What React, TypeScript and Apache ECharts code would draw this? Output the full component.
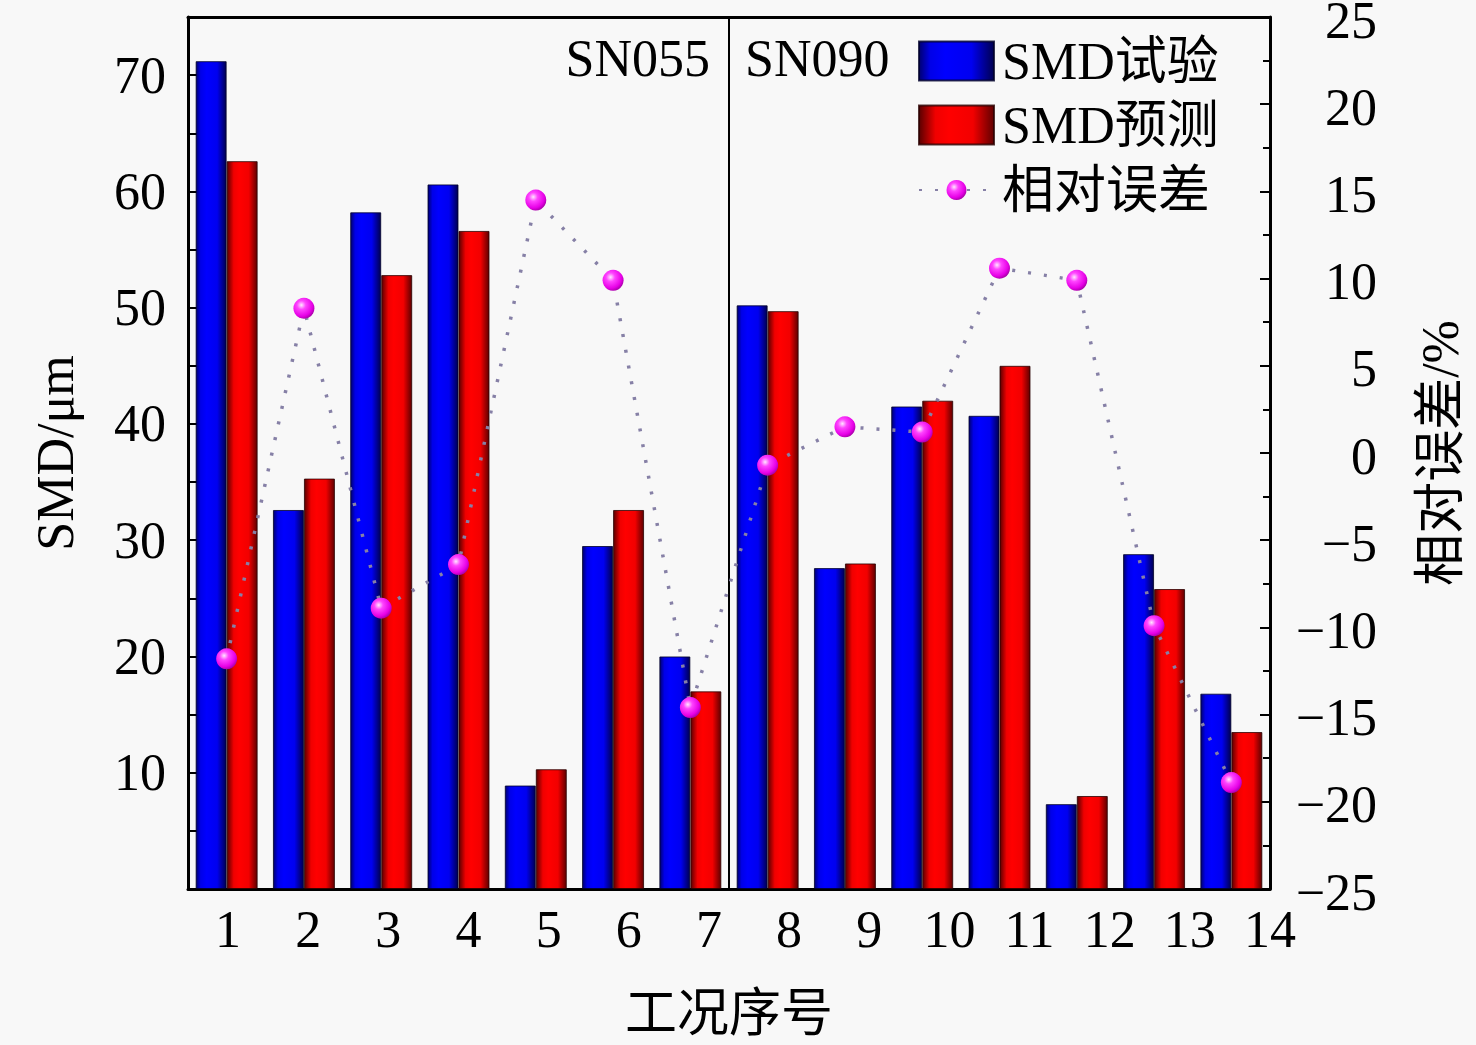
import React, { useEffect, useRef } from "react";
import * as echarts from "echarts";

const CATEGORIES = ["1", "2", "3", "4", "5", "6", "7", "8", "9", "10", "11", "12", "13", "14"];
const SMD_TEST = [71.2, 32.6, 58.2, 60.6, 8.9, 29.5, 20.0, 50.2, 27.6, 41.5, 40.7, 7.3, 28.8, 16.8];
const SMD_PRED = [62.6, 35.3, 52.8, 56.6, 10.3, 32.6, 17.0, 49.7, 28.0, 42.0, 45.0, 8.0, 25.8, 13.5];
const REL_ERR = [-11.8, 8.3, -8.9, -6.4, 14.5, 9.9, -14.6, -0.7, 1.5, 1.2, 10.6, 9.9, -9.9, -18.9];
const X_TICK_VALUES = [1, 2, 3, 4, 5, 6, 7, 8, 9, 10, 11, 12, 13, 14];
const GROUP_LABELS = ["SN055", "SN090"];
const GROUP_SPLIT = 7; // number of cases in first group
const SERIES_NAMES = ["SMD试验", "SMD预测", "相对误差"];

const FONT = "'Times New Roman', 'Liberation Serif', 'Noto Sans CJK SC', serif";
const FS = 52;
const BG = "#f8f8f8";

export default function App() {
  const ref = useRef<HTMLDivElement | null>(null);

  useEffect(() => {
    document.body.style.margin = "0";
    document.body.style.background = BG;
    if (!ref.current) return;
    const chart = echarts.init(ref.current, undefined, { renderer: "svg" });

    const blueGrad = new echarts.graphic.LinearGradient(0, 0, 1, 0, [
      { offset: 0, color: "#000070" },
      { offset: 0.15, color: "#0000e8" },
      { offset: 0.35, color: "#0000ff" },
      { offset: 0.7, color: "#0000f0" },
      { offset: 1, color: "#000050" },
    ]);
    const redGrad = new echarts.graphic.LinearGradient(0, 0, 1, 0, [
      { offset: 0, color: "#5a0000" },
      { offset: 0.22, color: "#f00000" },
      { offset: 0.4, color: "#ff0000" },
      { offset: 0.72, color: "#f20000" },
      { offset: 1, color: "#600000" },
    ]);
    const sphere = new echarts.graphic.RadialGradient(0.38, 0.35, 0.7, [
      { offset: 0, color: "#ffe6ff" },
      { offset: 0.3, color: "#ff44ff" },
      { offset: 0.75, color: "#e600e6" },
      { offset: 1, color: "#a000a0" },
    ]);

    const axisLine = { show: true, onZero: false, lineStyle: { color: "#000", width: 3 } };
    const legendText = { fontFamily: FONT, fontSize: FS, lineHeight: FS, color: "#000", padding: [0, 0, 0, 3] };

    const option: any = {
      animation: false,
      backgroundColor: BG,
      textStyle: { fontFamily: FONT, color: "#000" },
      grid: { left: 188, right: 206, top: 17, bottom: 156, containLabel: false, outerBoundsMode: "none" },
      legend: [
        {
          data: SERIES_NAMES.slice(0, 2),
          orient: "vertical",
          left: 918,
          top: 35,
          padding: 0,
          icon: "rect",
          itemWidth: 75,
          itemHeight: 39,
          itemGap: 12,
          selectedMode: false,
          textStyle: legendText,
        },
        {
          data: SERIES_NAMES.slice(2),
          orient: "vertical",
          left: 918,
          top: 164,
          padding: 0,
          itemWidth: 75,
          itemHeight: 25,
          selectedMode: false,
          textStyle: legendText,
        },
      ],
      xAxis: [
        {
          type: "category",
          data: CATEGORIES,
          position: "top",
          boundaryGap: true,
          axisLine,
          axisTick: { show: false },
          axisLabel: { show: false },
          splitLine: { show: false },
        },
        {
          type: "value",
          min: 0.5,
          max: 14,
          position: "bottom",
          axisLine,
          axisTick: { show: false },
          splitLine: { show: false },
          axisLabel: {
            customValues: X_TICK_VALUES,
            fontFamily: FONT,
            fontSize: FS,
            color: "#000",
            margin: 14,
          },
          name: "工况序号",
          nameLocation: "middle",
          nameGap: 98,
          nameTextStyle: { fontFamily: FONT, fontSize: FS, color: "#000" },
        },
        {
          type: "value",
          min: 0,
          max: CATEGORIES.length,
          position: "top",
          show: false,
          axisLine: { onZero: false },
        },
      ],
      yAxis: [
        {
          type: "value",
          position: "left",
          min: 0,
          max: 75,
          interval: 5,
          axisLine,
          axisTick: { show: true, inside: true, length: 10, lineStyle: { color: "#000", width: 2 } },
          splitLine: { show: false },
          axisLabel: {
            fontFamily: FONT,
            fontSize: FS,
            color: "#000",
            margin: 22,
            formatter: (v: number) => (v > 0 && v < 75 && v % 10 === 0 ? String(v) : ""),
          },
          name: "SMD/μm",
          nameLocation: "middle",
          nameGap: 107,
          nameTextStyle: { fontFamily: FONT, fontSize: FS, color: "#000" },
        },
        {
          type: "value",
          position: "right",
          min: -25,
          max: 25,
          interval: 5,
          axisLine,
          axisTick: { show: true, inside: true, length: 10, lineStyle: { color: "#000", width: 2 } },
          minorTick: { show: true, splitNumber: 2, length: 7, lineStyle: { color: "#000", width: 2 } },
          splitLine: { show: false },
          axisLabel: {
            fontFamily: FONT,
            fontSize: FS,
            lineHeight: FS,
            color: "#000",
            align: "right",
            verticalAlign: "top",
            margin: 107,
            padding: [-23, 0, 0, 0],
            formatter: (v: number) => (v < 0 ? "\u2212" + Math.abs(v) : String(v)),
          },
          name: "相对误差/%",
          nameLocation: "middle",
          nameGap: 144,
          nameTextStyle: { fontFamily: FONT, fontSize: FS, color: "#000" },
        },
      ],
      graphic: [
        {
          type: "text",
          x: 710,
          y: 58,
          style: { text: GROUP_LABELS[0], font: `${FS}px ${FONT}`, fill: "#000", align: "right", verticalAlign: "middle" },
        },
        {
          type: "text",
          x: 745,
          y: 58,
          style: { text: GROUP_LABELS[1], font: `${FS}px ${FONT}`, fill: "#000", align: "left", verticalAlign: "middle" },
        },
      ],
      series: [
        {
          name: SERIES_NAMES[0],
          type: "bar",
          xAxisIndex: 0,
          yAxisIndex: 0,
          data: SMD_TEST,
          barWidth: 31,
          barGap: "0%",
          itemStyle: { color: blueGrad, borderColor: "rgba(0,0,40,0.8)", borderWidth: 1 },
        },
        {
          name: SERIES_NAMES[1],
          type: "bar",
          xAxisIndex: 0,
          yAxisIndex: 0,
          data: SMD_PRED,
          barWidth: 31,
          barGap: "0%",
          itemStyle: { color: redGrad, borderColor: "rgba(40,0,0,0.8)", borderWidth: 1 },
        },
        {
          name: "divider",
          type: "line",
          xAxisIndex: 2,
          yAxisIndex: 0,
          data: [
            [GROUP_SPLIT, 0],
            [GROUP_SPLIT, 75],
          ],
          symbol: "none",
          silent: true,
          lineStyle: { color: "#000", width: 2 },
          z: 1,
        },
        {
          name: SERIES_NAMES[2],
          type: "line",
          xAxisIndex: 0,
          yAxisIndex: 1,
          data: REL_ERR,
          symbol: "circle",
          symbolSize: 21,
          z: 4,
          itemStyle: { color: sphere },
          lineStyle: { color: "#8680a6", width: 3.5, type: [3, 13] },
        },
      ],
    };

    chart.setOption(option);
    return () => chart.dispose();
  }, []);

  return <div ref={ref} style={{ width: 1476, height: 1045 }} />;
}
